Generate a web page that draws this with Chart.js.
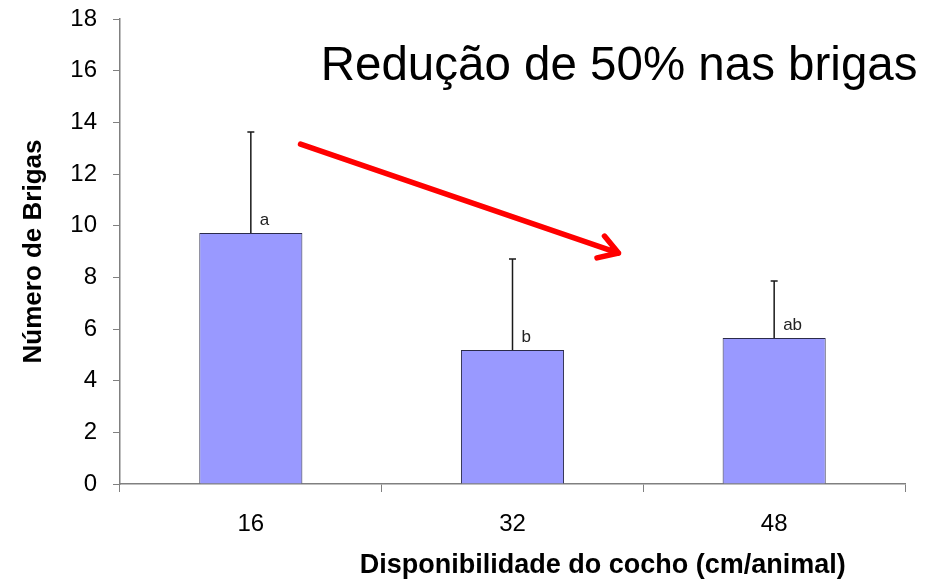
<!DOCTYPE html>
<html>
<head>
<meta charset="utf-8">
<script src="https://cdn.jsdelivr.net/npm/chart.js@4"></script>
<style>
  body { margin: 0; background: #fff; }
</style>
</head>
<body>
<canvas id="brigas-chart" width="940" height="580"></canvas>
<script>
// DATA
const categories = ['16', '32', '48'];
const meanFights = [9.72, 5.19, 5.65];
const errorTops = [13.63, 8.71, 7.86];
const groupLetters = ['a', 'b', 'ab'];
const yTicks = [0, 2, 4, 6, 8, 10, 12, 14, 16, 18];

const FONT = '"Liberation Sans", Arial, sans-serif';

// ERROR BARS + LETTERS
const errorBarPlugin = {
    id: 'errorBars',
    afterDatasetsDraw(chart){
        const ctx = chart.ctx;
        const meta = chart.getDatasetMeta(0);
        const yScale = chart.scales.y;
        ctx.save();
        meta.data.forEach((bar, i) => {
            const top = yScale.getPixelForValue(errorTops[i]);
            ctx.strokeStyle = '#1a1a1a';
            ctx.lineWidth = 1.5;
            ctx.beginPath();
            ctx.moveTo(bar.x, bar.y);
            ctx.lineTo(bar.x, top);
            ctx.moveTo(bar.x - 3.5, top);
            ctx.lineTo(bar.x + 3.5, top);
            ctx.stroke();

            ctx.fillStyle = '#222';
            ctx.font = '17px ' + FONT;
            ctx.textAlign = 'left';
            ctx.textBaseline = 'alphabetic';
            ctx.fillText(groupLetters[i], bar.x + 9, bar.y - 8);
        });
        ctx.restore();
    }
};

// ANNOTATION: TEXT + RED ARROW
const annotationPlugin = {
    id: 'annotation',
    afterDraw(chart){
        const ctx = chart.ctx;
        const x = chart.scales.x;
        const y = chart.scales.y;
        const area = chart.chartArea;
        ctx.save();

        ctx.fillStyle = '#000';
        ctx.font = '47.5px ' + FONT;
        ctx.textAlign = 'left';
        ctx.textBaseline = 'alphabetic';
        ctx.fillText('Redução de 50% nas brigas', x.getPixelForValue(0.267), y.getPixelForValue(15.64));

        const x1 = x.getPixelForValue(0.19), y1 = y.getPixelForValue(13.16);
        const x2 = x.getPixelForValue(1.405), y2 = y.getPixelForValue(8.94);
        const ang = Math.atan2(y2 - y1, x2 - x1);
        ctx.strokeStyle = '#ff0000';
        ctx.lineWidth = 5.5;
        ctx.lineCap = 'round';
        ctx.lineJoin = 'round';
        ctx.beginPath();
        ctx.moveTo(x1, y1);
        ctx.lineTo(x2, y2);
        ctx.moveTo(x2 - 22 * Math.cos(ang - 0.55), y2 - 22 * Math.sin(ang - 0.55));
        ctx.lineTo(x2, y2);
        ctx.lineTo(x2 - 22 * Math.cos(ang + 0.55), y2 - 22 * Math.sin(ang + 0.55));
        ctx.stroke();

        // x axis title, sits right of centre like the original
        ctx.fillStyle = '#000';
        ctx.font = 'bold 27px ' + FONT;
        ctx.textAlign = 'center';
        ctx.fillText('Disponibilidade do cocho (cm/animal)', x.getPixelForValue(1.345), area.bottom + 89);
        ctx.restore();
    }
};

const chartCtx = document.getElementById('brigas-chart').getContext('2d');
const brigasChart = new Chart(chartCtx, {
    type: 'bar',
    data: {
        labels: categories,
        datasets: [{
            data: meanFights,
            backgroundColor: '#9999ff',
            borderColor: '#2b2b4a',
            borderWidth: 1,
            barPercentage: 0.394,
            categoryPercentage: 1
        }]
    },
    options: {
        responsive: false,
        animation: false,
        layout: {
            padding: { top: 19, right: 35, left: 0, bottom: 0 }
        },
        plugins: {
            legend: { display: false },
            tooltip: { enabled: false }
        },
        scales: {
            x: {
                offset: true,
                grid: {
                    offset: true,
                    drawOnChartArea: false,
                    drawTicks: true,
                    tickLength: 8,
                    color: '#808080'
                },
                border: { color: '#808080', width: 1.5 },
                ticks: {
                    color: '#000',
                    padding: 18,
                    font: { family: FONT, size: 24 }
                },
                afterFit(scale){
                    scale.height = 96;
                    scale.paddingLeft = 0;
                    scale.paddingRight = 0;
                }
            },
            y: {
                min: 0,
                max: 18,
                afterBuildTicks(scale){ scale.ticks = yTicks.map(v => ({ value: v })); },
                grid: {
                    drawOnChartArea: false,
                    drawTicks: true,
                    tickLength: 7,
                    color: '#808080'
                },
                border: { color: '#808080', width: 1.5 },
                ticks: {
                    color: '#000',
                    padding: 16,
                    font: { family: FONT, size: 24 }
                },
                title: {
                    display: true,
                    text: 'Número de Brigas',
                    color: '#000',
                    padding: { top: 18, bottom: 0 },
                    font: { family: FONT, size: 26, weight: 'bold' }
                },
                afterFit(scale){
                    scale.width = 120;
                    scale.paddingTop = 0;
                    scale.paddingBottom = 0;
                }
            }
        }
    },
    plugins: [errorBarPlugin, annotationPlugin]
});
</script>
</body>
</html>
